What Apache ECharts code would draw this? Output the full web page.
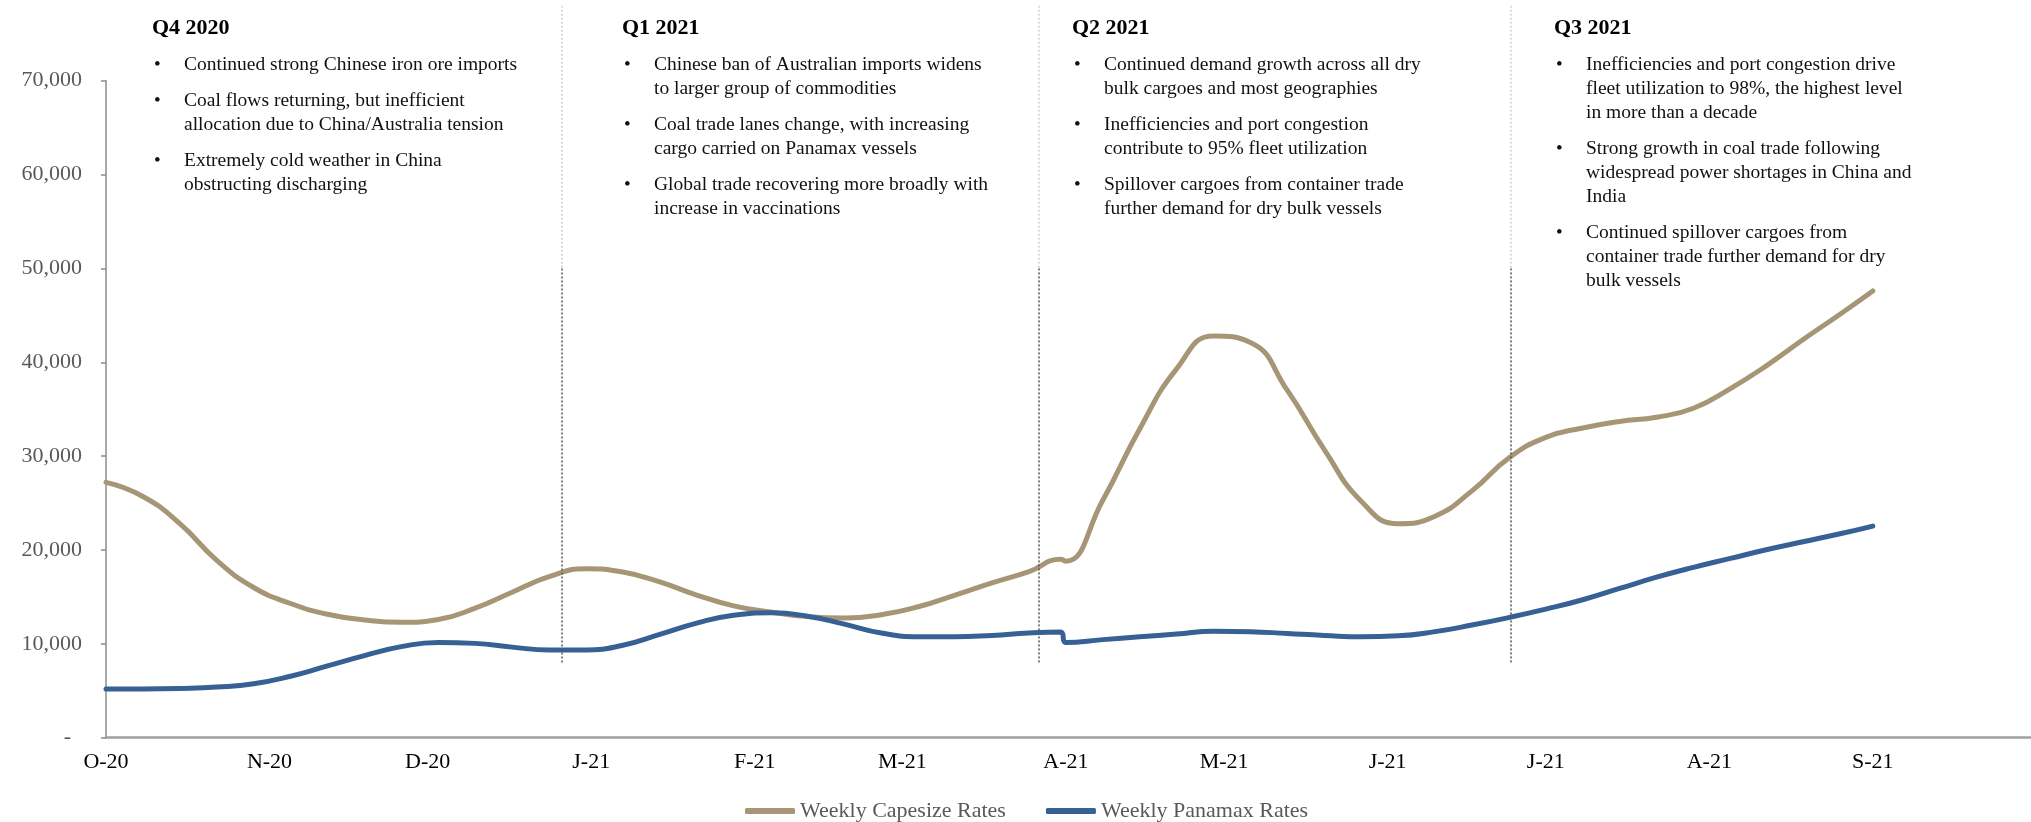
<!DOCTYPE html>
<html>
<head>
<meta charset="UTF-8" />
<title>Weekly Capesize and Panamax Rates</title>
<script src="https://cdn.jsdelivr.net/npm/echarts@6/dist/echarts.min.js"></script>
<style>
    html, body { margin: 0; padding: 0; background: #fff; }
    #chart { width: 2031px; height: 822px; }
</style>
</head>
<body>
<div id="chart"></div>
<script>
    // x = days since 1 Oct 2020
    var days = [0, 7, 14, 21, 28, 35, 42, 49, 56, 63, 70, 77, 84, 91, 98, 105, 112, 119, 126, 133,
        140, 147, 154, 161, 168, 175, 181, 182, 189, 196, 203, 210, 217, 224, 231, 238, 245,
        252, 259, 266, 273, 280, 287, 294, 301, 308, 315, 322, 329, 335];
    var capesize = [27200, 25700, 22800, 18900, 16000, 14300, 13150, 12550, 12300, 12600, 13800,
        15500, 17150, 18000, 17650, 16600, 15200, 14050, 13400, 12900, 12750, 13100, 13950, 15200,
        16500, 17700, 19000, 18800, 25300, 32900, 39300, 42800, 42100, 37000, 30700, 25200,
        22800, 23600, 26300, 29800, 32000, 33000, 33700, 34150, 35100, 37200, 39700, 42500, 45200, 47600];
    var panamax = [5200, 5200, 5250, 5400, 5750, 6550, 7650, 8750, 9700, 10150, 10050, 9650, 9350,
        9350, 9850, 11000, 12200, 13050, 13300, 12950, 12100, 11150, 10750, 10750, 10900, 11150,
        11250, 10150, 10450, 10750, 11050, 11350, 11300, 11100, 10900, 10750, 10850, 11300,
        12000, 12800, 13700, 14700, 15900, 17100, 18150, 19100, 20050, 20900, 21750, 22550];

    var monthDays = [0, 31, 61, 92, 123, 151, 182, 212, 243, 273, 304, 335];
    var monthLabels = ['O-20', 'N-20', 'D-20', 'J-21', 'F-21', 'M-21', 'A-21', 'M-21', 'J-21', 'J-21', 'A-21', 'S-21'];
    var quarterEnds = [86.5, 176.9, 266.4];

    var noteTitles = ['Q4 2020', 'Q1 2021', 'Q2 2021', 'Q3 2021'];
    var noteBullets = [
        [['Continued strong Chinese iron ore imports'],
         ['Coal flows returning, but inefficient', 'allocation due to China/Australia tension'],
         ['Extremely cold weather in China', 'obstructing discharging']],
        [['Chinese ban of Australian imports widens', 'to larger group of commodities'],
         ['Coal trade lanes change, with increasing', 'cargo carried on Panamax vessels'],
         ['Global trade recovering more broadly with', 'increase in vaccinations']],
        [['Continued demand growth across all dry', 'bulk cargoes and most geographies'],
         ['Inefficiencies and port congestion', 'contribute to 95% fleet utilization'],
         ['Spillover cargoes from container trade', 'further demand for dry bulk vessels']],
        [['Inefficiencies and port congestion drive', 'fleet utilization to 98%, the highest level', 'in more than a decade'],
         ['Strong growth in coal trade following', 'widespread power shortages in China and', 'India'],
         ['Continued spillover cargoes from', 'container trade further demand for dry', 'bulk vessels']]
    ];
    var noteLeft = [152, 622, 1072, 1554];

    var FONT = '"Liberation Serif", Georgia, serif';
    var LH = 24;

    var graphics = [];
    noteTitles.forEach(function (t, i) {
        var x = noteLeft[i];
        graphics.push({
            type: 'text', x: x, y: 28.5,
            style: { text: t, font: 'bold 22px ' + FONT, fill: '#000', verticalAlign: 'middle' }
        });
        var y = 65;
        noteBullets[i].forEach(function (b) {
            graphics.push({
                type: 'text', x: x + 2, y: y,
                style: { text: '•', font: '19px ' + FONT, fill: '#111', verticalAlign: 'middle' }
            });
            b.forEach(function (line, k) {
                graphics.push({
                    type: 'text', x: x + 32, y: y + k * LH,
                    style: { text: line, font: '19.5px ' + FONT, fill: '#111', verticalAlign: 'middle' }
                });
            });
            y += b.length * LH + 12;
        });
    });

    function pairs(ys) {
        return days.map(function (d, i) { return [d, ys[i]]; });
    }
    function divider(y0, y1) {
        return quarterEnds.map(function (d) {
            return [{ coord: [d, y0] }, { coord: [d, y1] }];
        });
    }

    var myChart = echarts.init(document.getElementById('chart'));
    var option = {
        animation: false,
        backgroundColor: '#fff',
        textStyle: { fontFamily: FONT },
        grid: [
            { left: 106, right: 0, top: 80.7, bottom: 84.3 },
            { left: 106, right: 0, top: 0, bottom: 84.3 }
        ],
        xAxis: [
            {
                type: 'value', gridIndex: 0, min: 0, max: 365,
                axisLine: { lineStyle: { color: '#a0a0a0', width: 2.5 } },
                axisTick: { show: false },
                splitLine: { show: false },
                axisLabel: {
                    customValues: monthDays,
                    formatter: function (v) { return monthLabels[monthDays.indexOf(v)] || ''; },
                    color: '#000', fontSize: 22, fontFamily: FONT, margin: 14
                }
            },
            { type: 'value', gridIndex: 1, min: 0, max: 365, show: false }
        ],
        yAxis: [
            {
                type: 'value', gridIndex: 0, min: 0, max: 70000, interval: 10000,
                axisLine: { show: true, lineStyle: { color: '#8c8c8c', width: 1.5 } },
                axisTick: { show: true, length: 5, lineStyle: { color: '#8c8c8c', width: 1.5 } },
                splitLine: { show: false },
                axisLabel: {
                    formatter: function (v) {
                        return v === 0 ? '-  ' : echarts.format.addCommas(v);
                    },
                    color: '#595959', fontSize: 22, fontFamily: FONT, margin: 24
                }
            },
            { type: 'value', gridIndex: 1, min: 0, max: 78600, show: false }
        ],
        legend: {
            data: ['Weekly Capesize Rates', 'Weekly Panamax Rates'],
            left: 740, top: 795,
            icon: 'roundRect',
            itemWidth: 50, itemHeight: 6, itemGap: 40,
            textStyle: { color: '#595959', fontSize: 22, fontFamily: FONT }
        },
        graphic: graphics,
        series: [
            {
                name: 'Weekly Capesize Rates', type: 'line',
                data: pairs(capesize), smooth: 0.5, symbol: 'none',
                color: '#a69676',
                lineStyle: { width: 5, color: '#a69676', cap: 'round' }
            },
            {
                name: 'Weekly Panamax Rates', type: 'line',
                data: pairs(panamax), smooth: 0.5, symbol: 'none',
                color: '#376094',
                lineStyle: { width: 5, color: '#376094', cap: 'round' }
            },
            {
                type: 'line', xAxisIndex: 1, yAxisIndex: 1, data: [], silent: true,
                markLine: {
                    silent: true, symbol: ['none', 'none'], label: { show: false },
                    lineStyle: { color: '#d0d0d0', type: [2, 2], width: 1.5 },
                    data: divider(78000, 50000)
                }
            },
            {
                type: 'line', xAxisIndex: 1, yAxisIndex: 1, data: [], silent: true,
                markLine: {
                    silent: true, symbol: ['none', 'none'], label: { show: false },
                    lineStyle: { color: '#555', type: [2, 2], width: 1.5 },
                    data: divider(50000, 7800)
                }
            }
        ]
    };
    myChart.setOption(option);
</script>
</body>
</html>
